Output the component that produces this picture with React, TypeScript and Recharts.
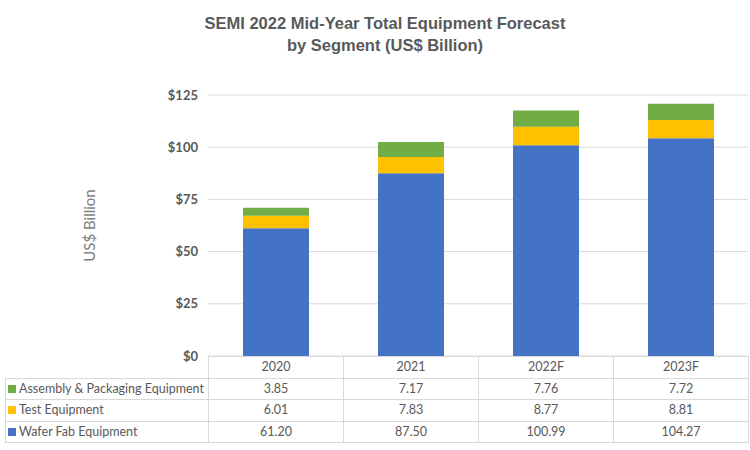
import React from 'react'
import { Bar, BarChart, CartesianGrid, Label, XAxis, YAxis } from 'recharts'

const years = ['2020', '2021', '2022F', '2023F']
const waferFab = [61.2, 87.5, 100.99, 104.27]
const testEquip = [6.01, 7.83, 8.77, 8.81]
const assembly = [3.85, 7.17, 7.76, 7.72]
const yTicks = [0, 25, 50, 75, 100, 125]

// table rows, top to bottom as in the data table
const rows = [
  { key: 'assembly', name: 'Assembly & Packaging Equipment', color: '#70AD47', values: assembly },
  { key: 'test', name: 'Test Equipment', color: '#FFC000', values: testEquip },
  { key: 'wafer', name: 'Wafer Fab Equipment', color: '#4472C4', values: waferFab },
]

const data = years.map((year, i) => ({
  year,
  wafer: waferFab[i],
  test: testEquip[i],
  assembly: assembly[i],
}))

const PLOT_LEFT = 208
const PLOT_RIGHT = 748
const PLOT_TOP = 95
const PLOT_BOTTOM = 356
const COL_W = (PLOT_RIGHT - PLOT_LEFT) / years.length
const ROW_H = 21.5
const BORDER = '1px solid #d9d9d9'
const textFont = 'Lato, "Open Sans", sans-serif'

const cell: React.CSSProperties = {
  border: BORDER,
  height: ROW_H,
  lineHeight: '18px',
  padding: 0,
  textAlign: 'center',
  color: '#595959',
  fontSize: 12.5,
  fontFamily: textFont,
  boxSizing: 'border-box',
}

export default function App() {
  return (
    <div
      style={{
        position: 'absolute',
        left: 0,
        top: 0,
        width: 750,
        height: 450,
        background: '#fff',
        overflow: 'hidden',
      }}
    >
      <div
        style={{
          position: 'absolute',
          left: 0,
          top: 12,
          width: 770,
          textAlign: 'center',
          fontFamily: '"Liberation Sans", Arial, sans-serif',
          fontWeight: 'bold',
          fontSize: 16.5,
          lineHeight: '22px',
          color: '#595959',
        }}
      >
        SEMI 2022 Mid-Year Total Equipment Forecast
        <br />
        by Segment (US$ Billion)
      </div>
      <BarChart
        width={750}
        height={450}
        data={data}
        margin={{
          top: PLOT_TOP,
          right: 750 - PLOT_RIGHT,
          bottom: 450 - PLOT_BOTTOM,
          left: PLOT_LEFT - 70,
        }}
        style={{ position: 'absolute', left: 0, top: 0 }}
      >
        <CartesianGrid vertical={false} stroke="#d9d9d9" />
        <XAxis dataKey="year" hide />
        <YAxis
          width={70}
          domain={[0, 125]}
          ticks={yTicks}
          tickFormatter={(v) => `$${v}`}
          axisLine={false}
          tickLine={false}
          tickMargin={4}
          tick={{ fill: '#595959', fontSize: 13, fontWeight: 'bold', fontFamily: textFont }}
        >
          <Label
            value="US$ Billion"
            angle={-90}
            position="insideLeft"
            offset={-48}
            style={{ fill: '#7f7f7f', fontSize: 15, fontFamily: textFont, textAnchor: 'middle' }}
          />
        </YAxis>
        <Bar dataKey="wafer" stackId="a" fill="#4472C4" barSize={66} isAnimationActive={false} />
        <Bar dataKey="test" stackId="a" fill="#FFC000" barSize={66} isAnimationActive={false} />
        <Bar dataKey="assembly" stackId="a" fill="#70AD47" barSize={66} isAnimationActive={false} />
      </BarChart>
      <table
        style={{
          position: 'absolute',
          left: 5,
          top: PLOT_BOTTOM,
          borderCollapse: 'collapse',
          tableLayout: 'fixed',
          width: PLOT_RIGHT - 5,
        }}
      >
        <colgroup>
          <col style={{ width: PLOT_LEFT - 5 }} />
          {years.map((y) => (
            <col key={y} style={{ width: COL_W }} />
          ))}
        </colgroup>
        <tbody>
          <tr>
            <td style={{ ...cell, border: 'none', borderRight: BORDER }} />
            {years.map((y) => (
              <td key={y} style={cell}>
                {y}
              </td>
            ))}
          </tr>
          {rows.map((r) => (
            <tr key={r.key}>
              <td style={{ ...cell, textAlign: 'left', whiteSpace: 'nowrap', overflow: 'hidden' }}>
                <span
                  style={{
                    display: 'inline-block',
                    width: 8,
                    height: 8,
                    background: r.color,
                    margin: '0 3px 0 2px',
                  }}
                />
                {r.name}
              </td>
              {r.values.map((v, i) => (
                <td key={years[i]} style={cell}>
                  {v.toFixed(2)}
                </td>
              ))}
            </tr>
          ))}
        </tbody>
      </table>
    </div>
  )
}
